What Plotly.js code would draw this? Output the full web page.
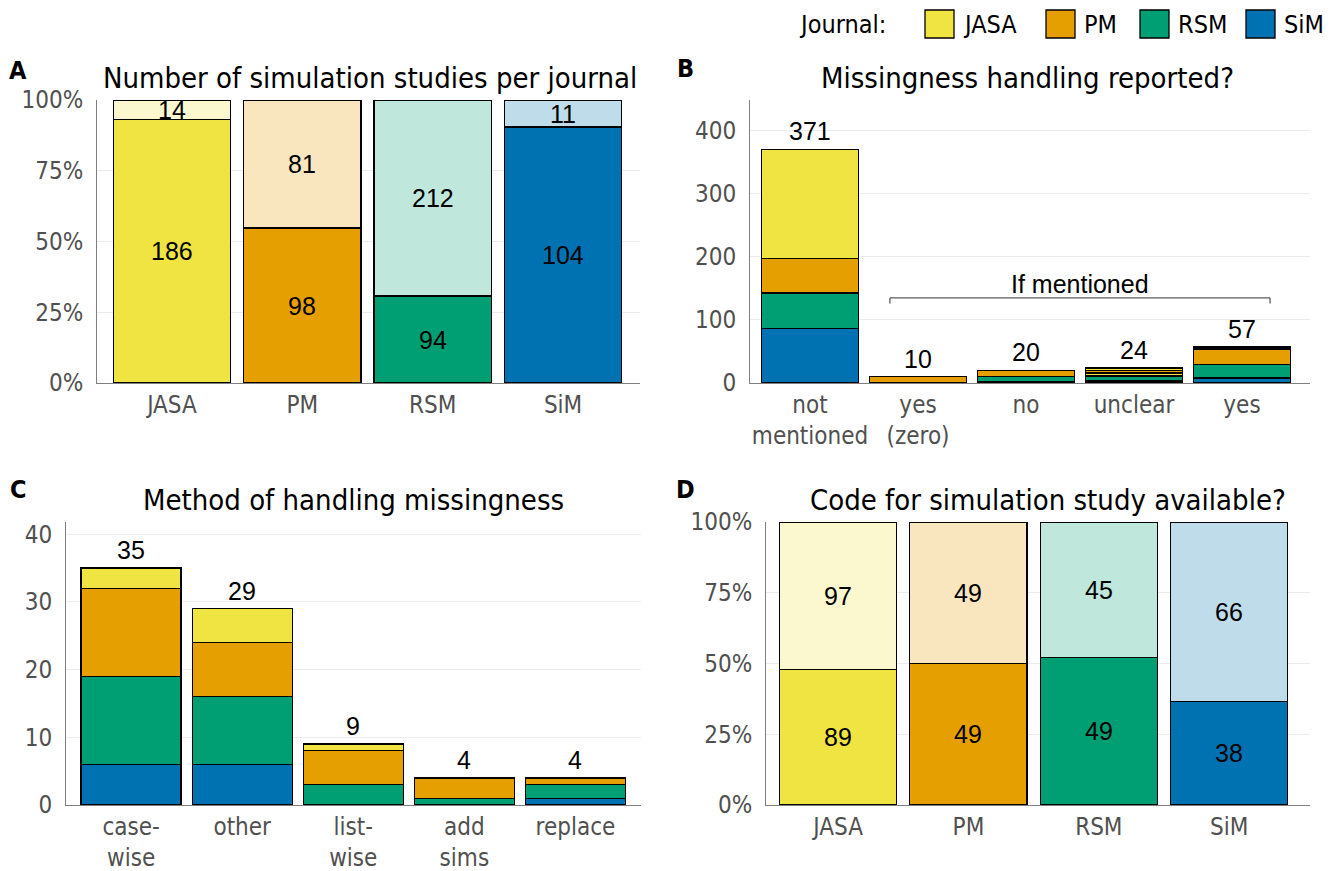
<!DOCTYPE html>
<html>
<head>
<meta charset="utf-8">
<script src="https://cdn.plot.ly/plotly-3.0.1.min.js"></script>
<style>html,body{margin:0;padding:0;background:#fff;}#chart{width:1335px;height:871px;}</style>
</head>
<body>
<div id="chart"></div>
<script>
// ---------- data ----------
const journals = ['JASA', 'PM', 'RSM', 'SiM'];

// Panel A: number of simulation studies per journal
const aMissingReported = [186, 98, 94, 104];
const aNotReported = [14, 81, 212, 11];

// Panel B: missingness handling reported?
const bCategories = ['not<br>mentioned', 'yes<br>(zero)', 'no', 'unclear', 'yes'];
const bSiM = [87, 0, 2, 3, 8];
const bRSM = [56, 0, 8, 8, 21];
const bJASAlower = [0, 0, 0, 5, 0];
const bPM = [54, 10, 10, 4, 25];
const bJASA = [174, 0, 0, 4, 3];

// Panel C: method of handling missingness
const cCategories = ['case-<br>wise', 'other', 'list-<br>wise', 'add<br>sims', 'replace'];
const cSiM = [6, 6, 0, 0, 1];
const cRSM = [13, 10, 3, 1, 2];
const cPM = [13, 8, 5, 3, 1];
const cJASA = [3, 5, 1, 0, 0];

// Panel D: code for simulation study available?
const dAvailable = [89, 49, 49, 38];
const dNotAvailable = [97, 49, 45, 66];

const colors = {JASA: '#F0E442', PM: '#E69F00', RSM: '#009E73', SiM: '#0072B2'};
const light = {JASA: '#FBF8D0', PM: '#F9E6BF', RSM: '#BFE7DC', SiM: '#BFDCEB'};

// ---------- helpers ----------
const W = 1335, H = 871;
const px = v => v / W;
const py = v => 1 - v / H;
const nz = arr => arr.map(v => v === 0 ? null : v);
const line = {color: '#000', width: 1.3};
const narrow = 'DejaVu Sans Condensed, Liberation Sans Narrow, sans-serif';
const tickFont = {family: narrow, size: 24, color: '#505050'};
const titleFont = {family: narrow, size: 29, color: '#000'};
const labelFont = {family: 'Liberation Sans, Arial, sans-serif', size: 25, color: '#000'};

const traces = [];
const annotations = [];

// Panel A
const aTotals = journals.map((j, i) => aMissingReported[i] + aNotReported[i]);
traces.push({type: 'bar', x: journals, y: aMissingReported.map((v, i) => v / aTotals[i]),
  marker: {color: journals.map(j => colors[j]), line: line}, xaxis: 'x', yaxis: 'y', hoverinfo: 'skip'});
traces.push({type: 'bar', x: journals, y: aNotReported.map((v, i) => v / aTotals[i]),
  marker: {color: journals.map(j => light[j]), line: line}, xaxis: 'x', yaxis: 'y', hoverinfo: 'skip'});
journals.forEach((j, i) => {
  const f1 = aMissingReported[i] / aTotals[i];
  const f2 = aNotReported[i] / aTotals[i];
  annotations.push({xref: 'x', yref: 'y', x: j, y: f1 / 2, text: String(aMissingReported[i]), showarrow: false, font: labelFont});
  annotations.push({xref: 'x', yref: 'y', x: j, y: f1 + f2 / 2, text: String(aNotReported[i]), showarrow: false, font: labelFont});
});

// Panel B
[[bSiM, colors.SiM], [bRSM, colors.RSM], [bJASAlower, colors.JASA], [bPM, colors.PM], [bJASA, colors.JASA]].forEach(([arr, col]) => {
  traces.push({type: 'bar', x: bCategories, y: nz(arr), marker: {color: col, line: line}, xaxis: 'x2', yaxis: 'y2', hoverinfo: 'skip'});
});
bCategories.forEach((c, i) => {
  const tot = bSiM[i] + bRSM[i] + bJASAlower[i] + bPM[i] + bJASA[i];
  annotations.push({xref: 'x2', yref: 'y2', x: c, y: tot, yanchor: 'bottom', yshift: 2, text: String(tot), showarrow: false, font: labelFont});
});
annotations.push({xref: 'x2', yref: 'y2', x: 2.5, y: 135, yanchor: 'bottom', yshift: -2, text: 'If mentioned', showarrow: false, font: labelFont});

// Panel C
[[cSiM, colors.SiM], [cRSM, colors.RSM], [cPM, colors.PM], [cJASA, colors.JASA]].forEach(([arr, col]) => {
  traces.push({type: 'bar', x: cCategories, y: nz(arr), marker: {color: col, line: line}, xaxis: 'x3', yaxis: 'y3', hoverinfo: 'skip'});
});
cCategories.forEach((c, i) => {
  const tot = cSiM[i] + cRSM[i] + cPM[i] + cJASA[i];
  annotations.push({xref: 'x3', yref: 'y3', x: c, y: tot, yanchor: 'bottom', yshift: 2, text: String(tot), showarrow: false, font: labelFont});
});

// Panel D
const dTotals = journals.map((j, i) => dAvailable[i] + dNotAvailable[i]);
traces.push({type: 'bar', x: journals, y: dAvailable.map((v, i) => v / dTotals[i]),
  marker: {color: journals.map(j => colors[j]), line: line}, xaxis: 'x4', yaxis: 'y4', hoverinfo: 'skip'});
traces.push({type: 'bar', x: journals, y: dNotAvailable.map((v, i) => v / dTotals[i]),
  marker: {color: journals.map(j => light[j]), line: line}, xaxis: 'x4', yaxis: 'y4', hoverinfo: 'skip'});
journals.forEach((j, i) => {
  const f1 = dAvailable[i] / dTotals[i];
  const f2 = dNotAvailable[i] / dTotals[i];
  annotations.push({xref: 'x4', yref: 'y4', x: j, y: f1 / 2, text: String(dAvailable[i]), showarrow: false, font: labelFont});
  annotations.push({xref: 'x4', yref: 'y4', x: j, y: f1 + f2 / 2, text: String(dNotAvailable[i]), showarrow: false, font: labelFont});
});

// Titles & panel letters
const titles = [
  ['Number of simulation studies per journal', 370, 78],
  ['Missingness handling reported?', 1027, 78],
  ['Method of handling missingness', 353, 500],
  ['Code for simulation study available?', 1048, 500]
];
titles.forEach(([t, x, y]) => annotations.push({xref: 'paper', yref: 'paper', x: px(x), y: py(y), text: t, showarrow: false, font: titleFont, xanchor: 'center', yanchor: 'middle'}));
const letters = [['A', 18, 70], ['B', 685, 68], ['C', 18, 490], ['D', 685, 490]];
letters.forEach(([t, x, y]) => annotations.push({xref: 'paper', yref: 'paper', x: px(x), y: py(y), text: '<b>' + t + '</b>', showarrow: false,
  font: {family: narrow, size: 25, color: '#000'}, xanchor: 'center', yanchor: 'middle'}));

// Legend (manual)
const legendFont = {family: narrow, size: 25, color: '#000'};
annotations.push({xref: 'paper', yref: 'paper', x: px(888), y: py(24), xanchor: 'right', yanchor: 'middle', text: 'Journal:', showarrow: false, font: legendFont});
const shapes = [];
const legendPos = [925, 1046, 1140, 1246];
journals.forEach((j, i) => {
  const x0 = legendPos[i];
  shapes.push({type: 'rect', xref: 'paper', yref: 'paper', x0: px(x0), x1: px(x0 + 29), y0: py(38), y1: py(10),
    fillcolor: colors[j], line: {color: '#000', width: 1.3}});
  annotations.push({xref: 'paper', yref: 'paper', x: px(x0 + 36), y: py(24), xanchor: 'left', yanchor: 'middle', text: j, showarrow: false, font: legendFont});
});

// "If mentioned" bracket
const bl = {color: '#333', width: 1};
shapes.push({type: 'line', xref: 'x2', yref: 'y2', x0: 0.74, x1: 4.26, y0: 135, y1: 135, line: bl});
shapes.push({type: 'line', xref: 'x2', yref: 'y2', x0: 0.74, x1: 0.74, y0: 135, y1: 126, line: bl});
shapes.push({type: 'line', xref: 'x2', yref: 'y2', x0: 4.26, x1: 4.26, y0: 135, y1: 126, line: bl});

const xBase = {type: 'category', showline: true, linecolor: '#7F7F7F', linewidth: 1, showgrid: false, zeroline: false,
  tickfont: tickFont, ticks: '', fixedrange: true};
const yBase = {showline: true, linecolor: '#7F7F7F', linewidth: 1, showgrid: true, gridcolor: '#EBEBEB', gridwidth: 1,
  zeroline: false, tickfont: tickFont, ticks: '', ticklabelstandoff: 8, fixedrange: true};

const layout = {
  width: W, height: H,
  margin: {l: 0, r: 0, t: 0, b: 0},
  paper_bgcolor: '#fff', plot_bgcolor: '#fff',
  barmode: 'stack', bargap: 0.1,
  showlegend: false,
  xaxis: Object.assign({}, xBase, {domain: [px(97), px(640)], range: [-0.575, 3.59], anchor: 'y'}),
  yaxis: Object.assign({}, yBase, {domain: [py(383), py(100)], range: [0, 1], tickvals: [0, 0.25, 0.5, 0.75, 1], tickformat: '.0%', anchor: 'x'}),
  xaxis2: Object.assign({}, xBase, {domain: [px(750), px(1310)], range: [-0.556, 4.63], anchor: 'y2'}),
  yaxis2: Object.assign({}, yBase, {domain: [py(383), py(100)], range: [0, 449], tickvals: [0, 100, 200, 300, 400], anchor: 'x2'}),
  xaxis3: Object.assign({}, xBase, {domain: [px(66), px(641)], range: [-0.586, 4.59], anchor: 'y3'}),
  yaxis3: Object.assign({}, yBase, {domain: [py(805), py(522)], range: [0, 41.8], tickvals: [0, 10, 20, 30, 40], anchor: 'x3'}),
  xaxis4: Object.assign({}, xBase, {domain: [px(766), px(1310)], range: [-0.553, 3.62], anchor: 'y4'}),
  yaxis4: Object.assign({}, yBase, {domain: [py(805), py(522)], range: [0, 1], tickvals: [0, 0.25, 0.5, 0.75, 1], tickformat: '.0%', anchor: 'x4'}),
  annotations: annotations,
  shapes: shapes
};

Plotly.newPlot('chart', traces, layout, {displayModeBar: false, staticPlot: true});
</script>
</body>
</html>
